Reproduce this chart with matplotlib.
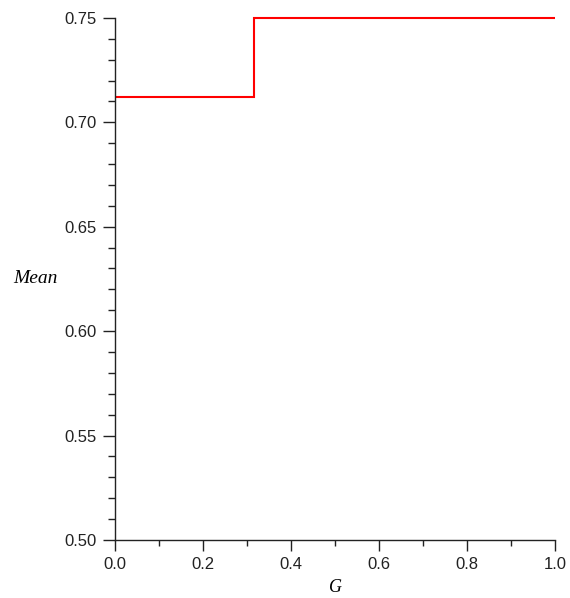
import matplotlib
matplotlib.use("Agg")
import matplotlib.pyplot as plt
from matplotlib.ticker import MultipleLocator

# piecewise-constant mean as a function of G
G_edges = [0.0, 0.316, 1.0]
mean_vals = [0.712, 0.75]

x_ticks = [0.0, 0.2, 0.4, 0.6, 0.8, 1.0]
y_ticks = [0.50, 0.55, 0.60, 0.65, 0.70, 0.75]

TICK_FONT = "Liberation Sans"
LABEL_FONT = "Liberation Serif"

fig = plt.figure(figsize=(5.7, 5.98), dpi=100)
ax = fig.add_axes([0.2018, 0.097, 0.7719, 0.8731])

ax.stairs(mean_vals, G_edges, color="#ff0000", lw=1.5, baseline=None,
          clip_on=False)

ax.set_xlim(0.0, 1.0)
ax.set_ylim(0.50, 0.75)
ax.set_xticks(x_ticks)
ax.set_xticklabels([f"{v:.1f}" for v in x_ticks])
ax.set_yticks(y_ticks)
ax.set_yticklabels([f"{v:.2f}" for v in y_ticks])
ax.xaxis.set_minor_locator(MultipleLocator(0.1))
ax.yaxis.set_minor_locator(MultipleLocator(0.01))

for sp in ("top", "right"):
    ax.spines[sp].set_visible(False)
for sp in ("left", "bottom"):
    ax.spines[sp].set_linewidth(1.0)
    ax.spines[sp].set_color("#222222")

ax.tick_params(axis="y", which="major", length=9, width=1.0, color="#222222", pad=4)
ax.tick_params(axis="y", which="minor", length=5, width=1.0, color="#222222")
ax.tick_params(axis="x", which="major", length=8, width=1.0, color="#222222", pad=4)
ax.tick_params(axis="x", which="minor", length=4, width=1.0, color="#222222")
for lbl in ax.get_xticklabels() + ax.get_yticklabels():
    lbl.set_family(TICK_FONT)
    lbl.set_fontsize(12)
    lbl.set_color("#222222")

ax.set_xlabel("G", family=LABEL_FONT, style="italic", fontsize=13, labelpad=5)
ax.set_ylabel("Mean", family=LABEL_FONT, style="italic", fontsize=14,
              rotation=0, ha="center", va="center")
ax.yaxis.set_label_coords(-0.182, 0.5)

fig.savefig("out.png", dpi=100)
